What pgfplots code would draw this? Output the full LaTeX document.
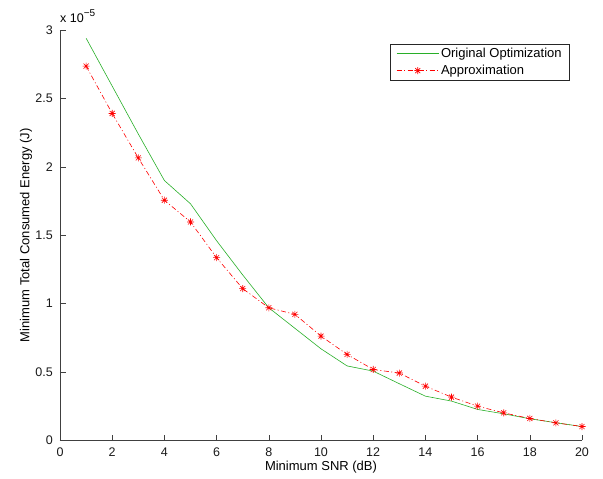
\documentclass[border=0pt]{standalone}
\usepackage{fontspec}
\setmainfont{Liberation Sans}
\usepackage{pgfplots}
\pgfplotsset{compat=1.18}
\definecolor{mgreen}{RGB}{40,175,40}
\definecolor{mred}{RGB}{255,0,0}
\pgfdeclareplotmark{mstar}{%
  \pgfpathmoveto{\pgfqpoint{-\pgfplotmarksize}{0pt}}\pgfpathlineto{\pgfqpoint{\pgfplotmarksize}{0pt}}%
  \pgfpathmoveto{\pgfqpoint{0pt}{-\pgfplotmarksize}}\pgfpathlineto{\pgfqpoint{0pt}{\pgfplotmarksize}}%
  \pgfpathmoveto{\pgfqpoint{-0.72\pgfplotmarksize}{-0.72\pgfplotmarksize}}\pgfpathlineto{\pgfqpoint{0.72\pgfplotmarksize}{0.72\pgfplotmarksize}}%
  \pgfpathmoveto{\pgfqpoint{-0.72\pgfplotmarksize}{0.72\pgfplotmarksize}}\pgfpathlineto{\pgfqpoint{0.72\pgfplotmarksize}{-0.72\pgfplotmarksize}}%
  \pgfusepathqstroke}
\begin{document}
\begin{tikzpicture}
\path[use as bounding box] (-60pt,-38.5pt) rectangle (543pt,440.5pt);
\begin{axis}[
  at={(0,0)}, anchor=south west,
  scale only axis, width=522pt, height=410.5pt,
  clip mode=individual,
  xmin=0, xmax=20, ymin=0, ymax=3,
  xtick={0,2,...,20}, ytick={0,0.5,1,1.5,2,2.5,3},
  yticklabels={0,0.5,1,1.5,2,2.5,3},
  axis x line*=bottom, axis y line*=left,
  axis line style={black!75, line width=0.6pt},
  tick style={black!75, line width=0.6pt},
  tick align=inside, major tick length=5.5pt,
  /pgf/number format/assume math mode=true,
  ticklabel style={font=\fontsize{12.5}{14}\selectfont, text=black!90},
  xticklabel style={anchor=base, yshift=-16.5pt},
  yticklabel style={anchor=east, inner sep=0pt, xshift=-7pt},
  xlabel={Minimum SNR (dB)},
  ylabel={Minimum Total Consumed Energy (J)},
  label style={font=\fontsize{13}{15}\selectfont},
  xlabel style={at={(rel axis cs:0.5,0)}, anchor=center, yshift=-26.5pt},
  ylabel style={at={(rel axis cs:0,0.5)}, anchor=center, yshift=34pt},
  legend style={at={(0.977,0.966)}, anchor=north east, draw=black!85,
    font=\fontsize{13}{15}\selectfont, inner xsep=6pt, inner ysep=2pt,
    row sep=2pt, line width=0.6pt},
  legend cell align=left,
  legend image code/.code={\draw[#1] (0pt,0pt) -- (42pt,0pt); \draw[#1, only marks] plot coordinates {(21pt,0pt)};},
]
\addplot[mgreen, line width=0.6pt, no markers] coordinates {
(1,2.94)(2,2.59)(3,2.24)(4,1.90)(5,1.73)(6,1.46)(7,1.21)(8,0.97)(9,0.82)(10,0.67)
(11,0.545)(12,0.507)(13,0.415)(14,0.324)(15,0.288)(16,0.227)(17,0.195)(18,0.159)(19,0.13)(20,0.102)};
\addlegendentry{Original Optimization}
\addplot[mred, line width=0.6pt, dash pattern=on 5pt off 2.5pt on 1pt off 2.5pt,
  mark=mstar, mark size=3.5pt, mark options={solid, line width=0.6pt}] coordinates {
(1,2.736)(2,2.39)(3,2.065)(4,1.756)(5,1.597)(6,1.336)(7,1.11)(8,0.97)(9,0.922)(10,0.763)
(11,0.629)(12,0.519)(13,0.493)(14,0.397)(15,0.317)(16,0.251)(17,0.202)(18,0.161)(19,0.129)(20,0.102)};
\addlegendentry{Approximation}
\node[anchor=base west, inner sep=0pt, font=\fontsize{12.5}{14}\selectfont, yshift=7.5pt] at (rel axis cs:0,1) {x 10\raisebox{6pt}{\fontsize{10}{12}\selectfont −5}};
\end{axis}
\end{tikzpicture}
\end{document}
